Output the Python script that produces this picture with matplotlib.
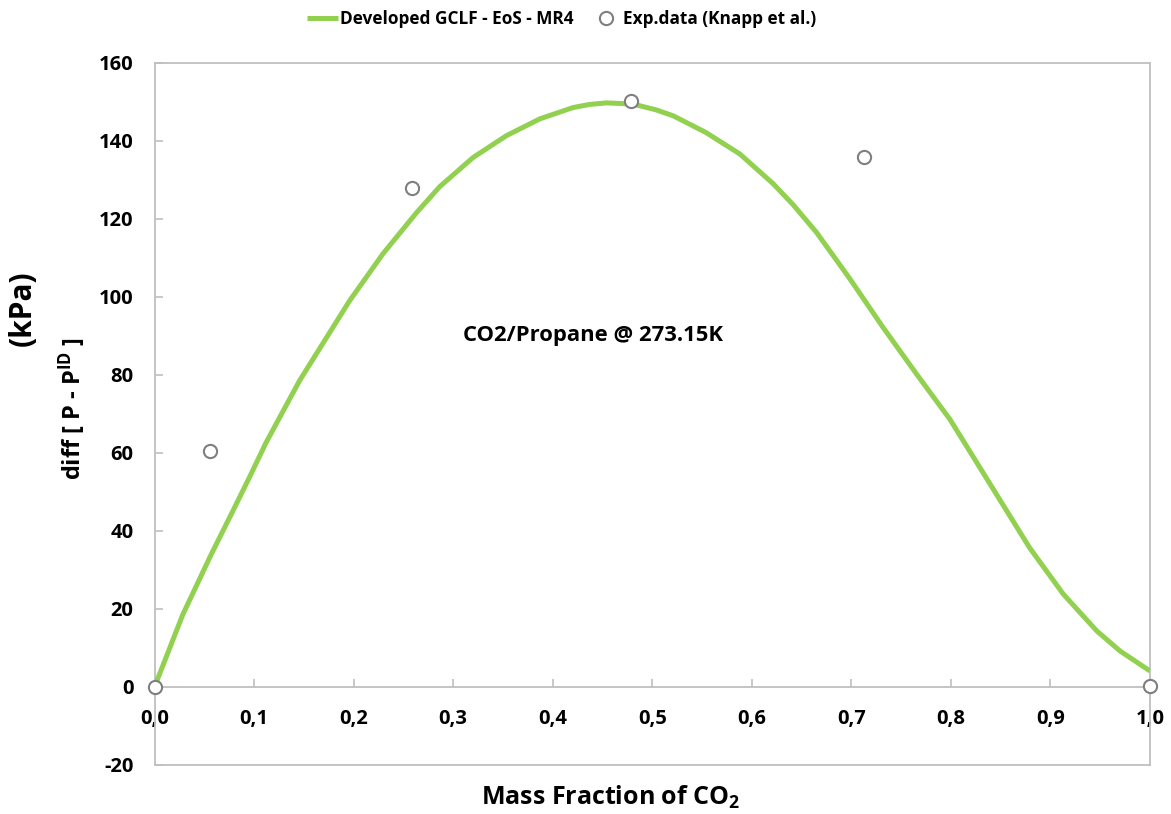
import matplotlib
matplotlib.use("Agg")
import matplotlib.pyplot as plt

# Model curve: pressure deviation from ideal mixing vs. CO2 mass fraction
curve_x = [0.0, 0.0285, 0.057, 0.0787, 0.0955, 0.112, 0.1457, 0.196, 0.2294,
           0.263, 0.2864, 0.320, 0.3535, 0.387, 0.4204, 0.437, 0.454, 0.4807,
           0.504, 0.521, 0.554, 0.588, 0.6214, 0.6415, 0.665, 0.698, 0.732,
           0.7655, 0.799, 0.8124, 0.8457, 0.879, 0.9129, 0.9464, 0.97, 1.0]
curve_y = [0.0, 18.6, 34.0, 45.1, 53.8, 62.6, 78.5, 99.0, 111.0,
           121.5, 128.2, 135.7, 141.3, 145.6, 148.5, 149.3, 149.7, 149.4,
           147.9, 146.4, 142.1, 136.6, 129.0, 123.6, 116.5, 104.8, 92.1,
           80.2, 68.6, 63.1, 49.4, 35.7, 23.8, 14.4, 9.2, 4.1]

# Experimental points (Knapp et al.)
exp_x = [0.0, 0.0553, 0.259, 0.479, 0.7126, 1.0]
exp_y = [0.0, 60.6, 128.0, 150.3, 135.9, 0.3]

x_ticks = [0.0, 0.1, 0.2, 0.3, 0.4, 0.5, 0.6, 0.7, 0.8, 0.9, 1.0]
x_tick_labels = ["0,0", "0,1", "0,2", "0,3", "0,4", "0,5", "0,6", "0,7", "0,8", "0,9", "1,0"]
y_ticks = [-20, 0, 20, 40, 60, 80, 100, 120, 140, 160]

FONT = "Open Sans"
GREEN = "#92D050"
GRAY = "#BFBFBF"
plt.rcParams["font.family"] = [FONT, "DejaVu Sans"]
plt.rcParams["font.weight"] = "bold"
plt.rcParams["axes.unicode_minus"] = False
plt.rcParams["mathtext.fontset"] = "custom"
plt.rcParams["mathtext.rm"] = FONT + ":bold"
plt.rcParams["mathtext.default"] = "rm"

W, H = 1171, 814
fig = plt.figure(figsize=(W / 100, H / 100), dpi=100)
ax = fig.add_axes([154.5 / W, 1 - 765 / H, (1150 - 154.5) / W, (765 - 62.7) / H])

line, = ax.plot(curve_x, curve_y, color=GREEN, lw=3.6, solid_capstyle="butt",
                solid_joinstyle="round", zorder=3,
                label="Developed GCLF - EoS - MR4")
pts, = ax.plot(exp_x, exp_y, ls="none", marker="o", ms=9.5, mfc="white",
               mec="#7F7F7F", mew=1.5, zorder=4, clip_on=False,
               label="Exp.data (Knapp et al.)")

ax.set_xlim(0, 1)
ax.set_ylim(-20, 160)

# Box frame, with the x axis drawn through y = 0
for s in ax.spines.values():
    s.set_color(GRAY)
    s.set_linewidth(1.3)
ax.spines["bottom"].set_position(("data", 0))
ax.axhline(-20, color=GRAY, lw=1.3, clip_on=False, zorder=1)

ax.set_xticks(x_ticks)
ax.set_xticklabels(x_tick_labels)
ax.set_yticks(y_ticks)
ax.tick_params(axis="x", direction="in", length=6, width=1.2, color=GRAY,
               labelsize=14.5, pad=16)
ax.tick_params(axis="y", direction="in", length=6, width=1.2, color=GRAY,
               labelsize=14.5, pad=15)
for lab in ax.get_xticklabels() + ax.get_yticklabels():
    lab.set_fontweight("bold")

ax.text(0.44, 90, "CO2/Propane @ 273.15K", ha="center", va="center",
        fontsize=15.8, fontweight="bold", color="black")

fig.text(611 / W, 1 - 797 / H, r"Mass Fraction of CO$_{2}$",
         ha="center", va="center", fontsize=18, fontweight="bold")
fig.text(72 / W, 1 - 409 / H, r"diff [ P - P$^{ID}$ ]",
         ha="center", va="center", rotation=90, fontsize=17, fontweight="bold")
fig.text(23 / W, 1 - 308 / H, "(kPa)", ha="center", va="center",
         rotation=90, fontsize=21.5, fontweight="bold")

leg = fig.legend(handles=[line, pts], loc="center", ncol=2,
                 bbox_to_anchor=(562 / W, 1 - 19 / H), frameon=False,
                 prop={"family": FONT, "weight": "bold", "size": 12.4},
                 handlelength=1.8, handletextpad=0.1, columnspacing=1.0)

fig.savefig("out.png", dpi=100, facecolor="white")
